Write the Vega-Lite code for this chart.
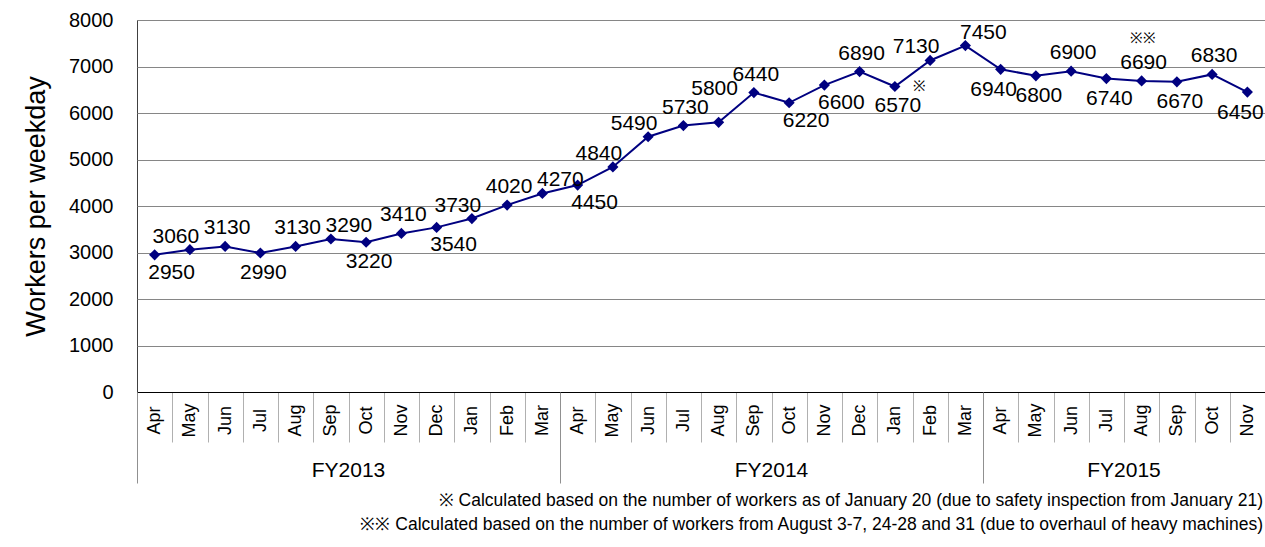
{
  "$schema": "https://vega.github.io/schema/vega-lite/v6.json",
  "width": 1128,
  "height": 372,
  "autosize": {"type": "none"},
  "padding": {"left": 137, "top": 20, "right": 0, "bottom": 155},
  "background": "white",
  "config": {
    "font": "Liberation Sans",
    "view": {"stroke": "#404040", "strokeWidth": 1},
    "axis": {"labelColor": "#000", "titleColor": "#000", "labelFont": "Liberation Sans", "titleFont": "Liberation Sans"},
    "text": {"font": "Liberation Sans", "fontSize": 21, "color": "#000"}
  },
  "title": {
    "text": [
      "※  Calculated based on the number of workers as of January 20 (due to safety inspection from January 21)",
      "※※  Calculated based on the number of workers from August 3-7, 24-28 and 31 (due to overhaul of heavy machines)"
    ],
    "orient": "bottom",
    "anchor": "end",
    "frame": "group",
    "dx": -2,
    "fontSize": 17.5,
    "fontWeight": "normal",
    "lineHeight": 24,
    "offset": 8,
    "color": "#000",
    "font": "Liberation Sans"
  },
  "data": {
    "values": [
      {"period": "FY2013 Apr", "workers": 2950, "note": ""},
      {"period": "FY2013 May", "workers": 3060, "note": ""},
      {"period": "FY2013 Jun", "workers": 3130, "note": ""},
      {"period": "FY2013 Jul", "workers": 2990, "note": ""},
      {"period": "FY2013 Aug", "workers": 3130, "note": ""},
      {"period": "FY2013 Sep", "workers": 3290, "note": ""},
      {"period": "FY2013 Oct", "workers": 3220, "note": ""},
      {"period": "FY2013 Nov", "workers": 3410, "note": ""},
      {"period": "FY2013 Dec", "workers": 3540, "note": ""},
      {"period": "FY2013 Jan", "workers": 3730, "note": ""},
      {"period": "FY2013 Feb", "workers": 4020, "note": ""},
      {"period": "FY2013 Mar", "workers": 4270, "note": ""},
      {"period": "FY2014 Apr", "workers": 4450, "note": ""},
      {"period": "FY2014 May", "workers": 4840, "note": ""},
      {"period": "FY2014 Jun", "workers": 5490, "note": ""},
      {"period": "FY2014 Jul", "workers": 5730, "note": ""},
      {"period": "FY2014 Aug", "workers": 5800, "note": ""},
      {"period": "FY2014 Sep", "workers": 6440, "note": ""},
      {"period": "FY2014 Oct", "workers": 6220, "note": ""},
      {"period": "FY2014 Nov", "workers": 6600, "note": ""},
      {"period": "FY2014 Dec", "workers": 6890, "note": ""},
      {"period": "FY2014 Jan", "workers": 6570, "note": "※"},
      {"period": "FY2014 Feb", "workers": 7130, "note": ""},
      {"period": "FY2014 Mar", "workers": 7450, "note": ""},
      {"period": "FY2015 Apr", "workers": 6940, "note": ""},
      {"period": "FY2015 May", "workers": 6800, "note": ""},
      {"period": "FY2015 Jun", "workers": 6900, "note": ""},
      {"period": "FY2015 Jul", "workers": 6740, "note": ""},
      {"period": "FY2015 Aug", "workers": 6690, "note": "※※"},
      {"period": "FY2015 Sep", "workers": 6670, "note": ""},
      {"period": "FY2015 Oct", "workers": 6830, "note": ""},
      {"period": "FY2015 Nov", "workers": 6450, "note": ""}
    ]
  },
  "encoding": {
    "x": {"field": "period", "type": "nominal", "sort": null, "scale": {"paddingInner": 0, "paddingOuter": 0}, "axis": null},
    "y": {
      "field": "workers", "type": "quantitative",
      "scale": {"domain": [0, 8000]},
      "axis": {
        "title": "Workers per weekday", "titleFontSize": 27, "titleFontWeight": "normal", "titlePadding": 18,
        "values": [0, 1000, 2000, 3000, 4000, 5000, 6000, 7000, 8000], "format": "d",
        "labelFontSize": 20, "labelPadding": 24, "ticks": false, "domain": false,
        "gridColor": "#868686", "gridWidth": 1
      }
    }
  },
  "layer": [
    {
      "mark": {"type": "line", "color": "#000080", "strokeWidth": 2},
      "encoding": {
        "x": {
          "field": "period", "type": "nominal", "sort": null,
          "scale": {"paddingInner": 0, "paddingOuter": 0},
          "axis": {
            "orient": "bottom", "title": null,
            "labelExpr": "split(datum.value, ' ')[1]",
            "labelAngle": -90, "labelAlign": "center", "labelBaseline": "middle",
            "labelFontSize": 18, "labelPadding": -22, "labelOverlap": false,
            "tickBand": "extent", "tickSize": 50, "tickColor": "#b0b0b0", "tickWidth": 1,
            "domainColor": "#000", "domainWidth": 1, "grid": false
          }
        }
      }
    },
    {
      "mark": {"type": "point", "shape": "diamond", "filled": true, "color": "#000080", "size": 125, "opacity": 1},
      "encoding": {
        "x": {
          "field": "period", "type": "nominal", "sort": null,
          "scale": {"paddingInner": 0, "paddingOuter": 0},
          "axis": {
            "orient": "bottom", "title": null,
            "values": ["FY2013 Apr", "FY2014 Apr", "FY2015 Apr"],
            "labels": false, "domain": false, "grid": false,
            "tickBand": "center", "tickOffset": -17.625, "tickSize": 91, "tickColor": "#909090", "tickWidth": 1
          }
        }
      }
    },
    {
      "transform": [{"filter": "indexof(['FY2013 Jun','FY2013 Aug','FY2013 Nov','FY2013 Feb','FY2014 Jul','FY2014 Sep','FY2014 Dec','FY2015 Jun','FY2015 Aug','FY2015 Oct'], datum.period) >= 0"}],
      "mark": {"type": "text", "baseline": "bottom", "dx": 2, "dy": -8},
      "encoding": {
        "x": {
          "field": "period", "type": "nominal", "sort": null,
          "scale": {"paddingInner": 0, "paddingOuter": 0},
          "axis": {
            "orient": "bottom", "title": null,
            "values": ["FY2013 Sep", "FY2014 Sep", "FY2015 Jul"],
            "labelExpr": "split(datum.value, ' ')[0]",
            "labelOffset": 17.625, "ticks": false, "domain": false, "grid": false,
            "labelAngle": 0, "labelAlign": "center", "labelBaseline": "middle",
            "labelPadding": 78, "labelFontSize": 21
          }
        },
        "text": {"field": "workers", "type": "quantitative", "format": "d"}
      }
    },
    {
      "transform": [{"filter": "indexof(['FY2013 Sep','FY2013 Mar','FY2014 Mar'], datum.period) >= 0"}],
      "mark": {"type": "text", "baseline": "bottom", "dx": 18, "dy": -3},
      "encoding": {"text": {"field": "workers", "type": "quantitative", "format": "d"}}
    },
    {
      "transform": [{"filter": "indexof(['FY2013 May','FY2013 Jan','FY2014 May','FY2014 Jun','FY2014 Feb'], datum.period) >= 0"}],
      "mark": {"type": "text", "baseline": "bottom", "dx": -14, "dy": -3},
      "encoding": {"text": {"field": "workers", "type": "quantitative", "format": "d"}}
    },
    {
      "transform": [{"filter": "datum.period == 'FY2014 Aug'"}],
      "mark": {"type": "text", "baseline": "bottom", "dx": -4, "dy": -23},
      "encoding": {"text": {"field": "workers", "type": "quantitative", "format": "d"}}
    },
    {
      "transform": [{"filter": "indexof(['FY2013 Jul','FY2013 Oct','FY2014 Jan','FY2015 May','FY2015 Jul','FY2015 Sep'], datum.period) >= 0"}],
      "mark": {"type": "text", "baseline": "top", "dx": 3, "dy": 9},
      "encoding": {"text": {"field": "workers", "type": "quantitative", "format": "d"}}
    },
    {
      "transform": [{"filter": "indexof(['FY2013 Apr','FY2013 Dec','FY2014 Apr','FY2014 Oct','FY2014 Nov'], datum.period) >= 0"}],
      "mark": {"type": "text", "baseline": "top", "dx": 17, "dy": 7},
      "encoding": {"text": {"field": "workers", "type": "quantitative", "format": "d"}}
    },
    {
      "transform": [{"filter": "indexof(['FY2015 Apr','FY2015 Nov'], datum.period) >= 0"}],
      "mark": {"type": "text", "baseline": "top", "dx": -7, "dy": 10},
      "encoding": {"text": {"field": "workers", "type": "quantitative", "format": "d"}}
    },
    {
      "transform": [{"filter": "datum.note == '※'"}],
      "mark": {"type": "text", "baseline": "middle", "align": "center", "dx": 25, "dy": 0, "fontSize": 15},
      "encoding": {"text": {"field": "note", "type": "nominal"}}
    },
    {
      "transform": [{"filter": "datum.note == '※※'"}],
      "mark": {"type": "text", "baseline": "middle", "align": "center", "dx": 1, "dy": -43, "fontSize": 15},
      "encoding": {"text": {"field": "note", "type": "nominal"}}
    }
  ],
  "resolve": {"axis": {"x": "independent"}}
}
